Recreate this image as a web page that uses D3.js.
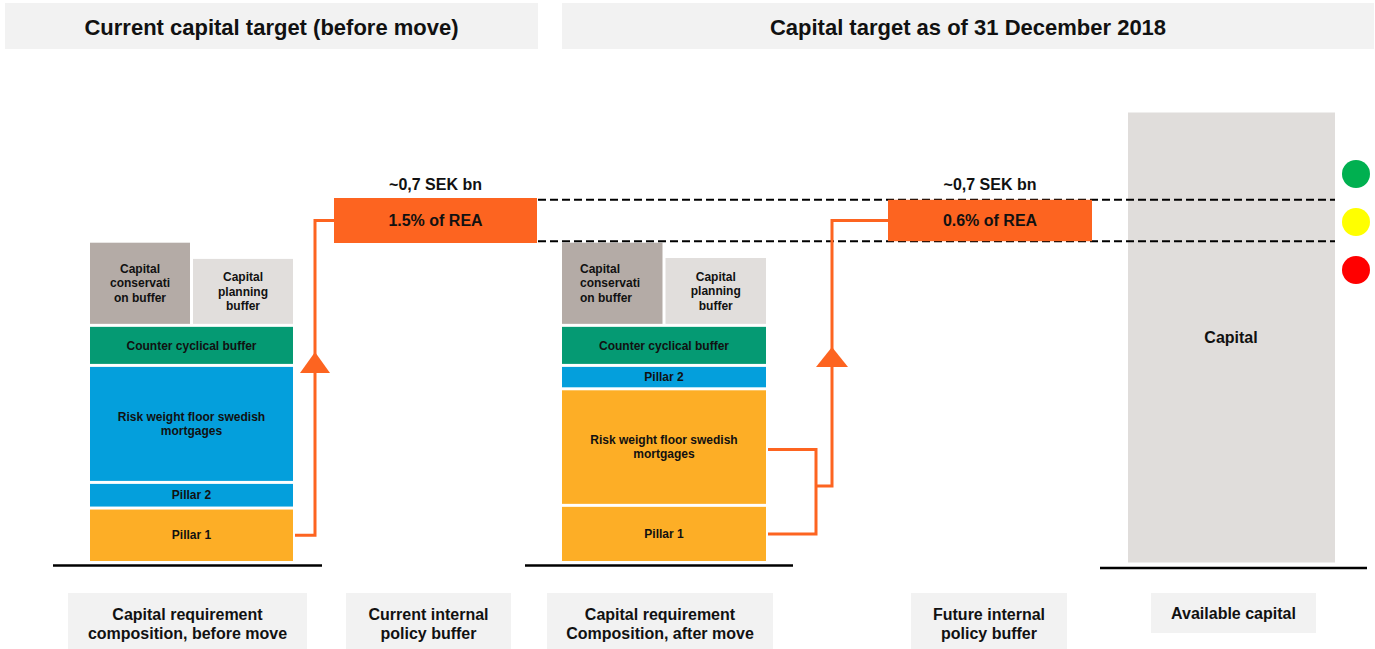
<!DOCTYPE html>
<html>
<head>
<meta charset="utf-8">
<script src="https://cdn.jsdelivr.net/npm/d3@7"></script>
<style>
body { margin: 0; background: #fff; }
text { font-family: "Liberation Sans", Arial, sans-serif; font-weight: bold; fill: #111; }
</style>
</head>
<body>
<div id="chart"></div>
<script>
// data (arbitrary capital units, bottom-up)
var segNames = ["Pillar 1", "Pillar 2", "Risk weight floor swedish mortgages", "Counter cyclical buffer"];
var beforeValues = [1.21, 0.57, 2.6, 0.89];
var afterNames = ["Pillar 1", "Risk weight floor swedish mortgages", "Pillar 2", "Counter cyclical buffer"];
var afterValues = [1.27, 2.59, 0.52, 0.89];
var topNames = ["Capital conservation buffer", "Capital planning buffer"];
var topBefore = [1.87, 1.51];
var topAfter = [1.87, 1.53];
var bufferLabels = ["1.5% of REA", "0.6% of REA"];
var bufferAmount = ["~0,7 SEK bn", "~0,7 SEK bn"];
var bufferLow = [7.1, 7.14];
var bufferHigh = [8.1, 8.06];
var availableCapital = 10;
var headers = ["Current capital target (before move)", "Capital target as of 31 December 2018"];
var footLabels = [
  ["Capital requirement", "composition, before move"],
  ["Current internal", "policy buffer"],
  ["Capital requirement", "Composition, after move"],
  ["Future internal", "policy buffer"],
  ["Available capital"]
];
var signalColors = ["#00b050", "#ffff00", "#ff0000"];

var width = 1375, height = 649;
var svg = d3.select("#chart").append("svg").attr("width", width).attr("height", height);

var y = d3.scaleLinear().domain([0, 10]).range([562.5, 112.5]);
var orange = "#fd6420";
var amber = "#fdae26";
var blue = "#049fdc";
var gap = 1.5;

var colorBefore = {
  "Pillar 1": amber,
  "Pillar 2": blue,
  "Risk weight floor swedish mortgages": blue,
  "Counter cyclical buffer": "#059a73",
  "Capital conservation buffer": "#b4aba6",
  "Capital planning buffer": "#e1dedc"
};
var colorAfter = Object.assign({}, colorBefore, { "Risk weight floor swedish mortgages": amber });
var lines = {
  "Pillar 1": ["Pillar 1"],
  "Pillar 2": ["Pillar 2"],
  "Risk weight floor swedish mortgages": ["Risk weight floor swedish", "mortgages"],
  "Counter cyclical buffer": ["Counter cyclical buffer"],
  "Capital conservation buffer": ["Capital", "conservati", "on buffer"],
  "Capital planning buffer": ["Capital", "planning", "buffer"]
};

// header boxes
var headBoxes = [[5, 538], [562, 1374]];
headers.forEach(function (h, i) {
  svg.append("rect").attr("x", headBoxes[i][0]).attr("y", 3)
    .attr("width", headBoxes[i][1] - headBoxes[i][0]).attr("height", 46).attr("fill", "#f2f2f2");
  svg.append("text").attr("x", (headBoxes[i][0] + headBoxes[i][1]) / 2).attr("y", 34.5)
    .attr("text-anchor", "middle").style("font-size", "22px").text(h);
});

function multiline(x, cy, arr, size, anchor, lhf) {
  var lh = size * (lhf || 1.2);
  var t = svg.append("text").attr("text-anchor", anchor || "middle").style("font-size", size + "px");
  arr.forEach(function (l, k) {
    t.append("tspan").attr("x", x).attr("y", cy - (arr.length - 1) * lh / 2 + k * lh + size * 0.35).text(l);
  });
}

function drawStack(x0, x1, names, values, topVals, colors, consAnchor) {
  var acc = 0;
  names.forEach(function (n, i) {
    var lo = acc, hi = acc + values[i];
    acc = hi;
    var top = y(hi) + gap, bot = y(lo) - gap;
    svg.append("rect").attr("x", x0).attr("y", top).attr("width", x1 - x0).attr("height", bot - top)
      .attr("fill", colors[n]);
    multiline((x0 + x1) / 2, (top + bot) / 2, lines[n], 12);
  });
  var mid = (x0 + x1) / 2;
  var parts = [[x0, mid - 1.5], [mid + 1.5, x1]];
  topNames.forEach(function (n, i) {
    var top = y(acc + topVals[i]) + gap, bot = y(acc) - gap;
    svg.append("rect").attr("x", parts[i][0]).attr("y", top).attr("width", parts[i][1] - parts[i][0])
      .attr("height", bot - top).attr("fill", colors[n]);
    if (i === 0 && consAnchor === "start") {
      multiline(parts[i][0] + 18, (top + bot) / 2, lines[n], 12, "start");
    } else {
      multiline((parts[i][0] + parts[i][1]) / 2, (top + bot) / 2, lines[n], 12);
    }
  });
}

drawStack(90, 293, segNames, beforeValues, topBefore, colorBefore, "middle");
drawStack(562, 766, afterNames, afterValues, topAfter, colorAfter, "start");

// available capital
svg.append("rect").attr("x", 1128).attr("y", y(availableCapital)).attr("width", 207)
  .attr("height", y(0) - y(availableCapital)).attr("fill", "#e0dddb");
svg.append("text").attr("x", 1231).attr("y", 343).attr("text-anchor", "middle")
  .style("font-size", "16px").text("Capital");

// dashed reference lines
[bufferHigh[1], bufferLow[1]].forEach(function (v) {
  svg.append("line").attr("x1", 538).attr("x2", 1335).attr("y1", y(v)).attr("y2", y(v))
    .attr("stroke", "#000").attr("stroke-width", 2).attr("stroke-dasharray", "8,4");
});

// buffer boxes
var bufX = [[334, 537], [888, 1092]];
bufferLabels.forEach(function (b, i) {
  var top = y(bufferHigh[i]), bot = y(bufferLow[i]);
  svg.append("rect").attr("x", bufX[i][0]).attr("y", top).attr("width", bufX[i][1] - bufX[i][0])
    .attr("height", bot - top).attr("fill", orange);
  var cx = (bufX[i][0] + bufX[i][1]) / 2;
  svg.append("text").attr("x", cx).attr("y", (top + bot) / 2 + 5.5).attr("text-anchor", "middle")
    .style("font-size", "16px").text(b);
  svg.append("text").attr("x", cx).attr("y", 190).attr("text-anchor", "middle")
    .style("font-size", "16px").text(bufferAmount[i]);
});

// connectors
function path(pts) {
  svg.append("path").attr("d", d3.line()(pts)).attr("fill", "none")
    .attr("stroke", orange).attr("stroke-width", 3);
}
function arrow(x, tip, base, hw) {
  svg.append("path").attr("d", "M" + x + "," + tip + "L" + (x + hw) + "," + base + "L" + (x - hw) + "," + base + "Z")
    .attr("fill", orange);
}
var midY = (y(bufferHigh[0]) + y(bufferLow[0])) / 2;
var p1Left = y(beforeValues[0] / 2);
path([[295, p1Left], [315, p1Left], [315, midY], [334, midY]]);
arrow(315, 352, 373, 15);

var p1Right = y(afterValues[0] / 2);
var rwRight = y(afterValues[0] + afterValues[1] * 0.48);
path([[768, rwRight], [816, rwRight], [816, p1Right], [768, p1Right]]);
path([[816, 486], [832, 486], [832, midY], [888, midY]]);
arrow(832, 347, 367, 16);

// baselines
[[53, 322, 565.5], [525, 793, 565.5], [1100, 1367, 568]].forEach(function (b) {
  svg.append("line").attr("x1", b[0]).attr("x2", b[1]).attr("y1", b[2]).attr("y2", b[2])
    .attr("stroke", "#000").attr("stroke-width", 2.5);
});

// traffic lights
var cy = d3.scalePoint().domain(signalColors).range([174, 270]);
svg.selectAll("circle.sig").data(signalColors).enter().append("circle")
  .attr("cx", 1356).attr("cy", function (d) { return cy(d); }).attr("r", 14)
  .attr("fill", function (d) { return d; });

// footer labels
var footBoxes = [[68, 307, 56], [346, 511, 56], [547, 773, 56], [911, 1067, 56], [1151, 1316, 40]];
footLabels.forEach(function (f, i) {
  var b = footBoxes[i];
  svg.append("rect").attr("x", b[0]).attr("y", 593).attr("width", b[1] - b[0]).attr("height", b[2])
    .attr("fill", "#f2f2f2");
  multiline((b[0] + b[1]) / 2, f.length > 1 ? 623.5 : 613, f, 16, "middle", 1.2);
});
</script>
</body>
</html>
